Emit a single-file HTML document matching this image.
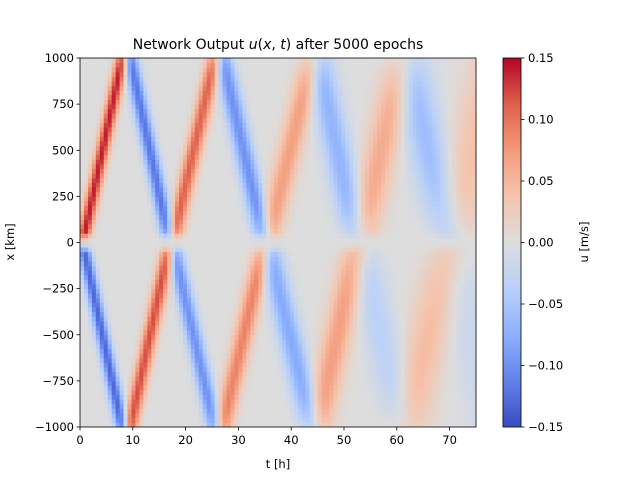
<!DOCTYPE html>
<html><head><meta charset="utf-8"><style>
body{margin:0;background:#fff;}
svg text{font-family:"DejaVu Sans","Liberation Sans",sans-serif;font-size:11.5px;fill:#000;}
</style></head><body>
<svg id="chart" width="640" height="480">
<defs><linearGradient id="cbg" x1="0" y1="1" x2="0" y2="0">
<stop offset="0" stop-color="rgb(58,76,192)"/><stop offset="0.125" stop-color="rgb(98,130,234)"/>
<stop offset="0.25" stop-color="rgb(141,176,254)"/><stop offset="0.375" stop-color="rgb(184,208,249)"/>
<stop offset="0.5" stop-color="rgb(221,221,221)"/><stop offset="0.625" stop-color="rgb(245,196,173)"/>
<stop offset="0.75" stop-color="rgb(244,154,123)"/><stop offset="0.875" stop-color="rgb(222,96,77)"/>
<stop offset="1" stop-color="rgb(180,4,38)"/></linearGradient></defs>
<g id="cells"></g>
<rect x="80" y="58" width="396" height="369" fill="none" stroke="#000" stroke-width="0.8"/>
<g id="axes"></g>
<text x="278" y="49" text-anchor="middle" style="font-size:14px">Network Output <tspan font-style="italic">u</tspan>(<tspan font-style="italic">x</tspan>, <tspan font-style="italic">t</tspan>) after 5000 epochs</text>
<text x="278" y="468" text-anchor="middle">t [h]</text>
<text transform="translate(14,242) rotate(-90)" text-anchor="middle">x [km]</text>
<rect x="503" y="58" width="18" height="369" fill="url(#cbg)" stroke="#000" stroke-width="0.8"/>
<text transform="translate(588,242) rotate(-90)" text-anchor="middle">u [m/s]</text>
</svg>
<script>
// ridge segments: start time, end time, start x, end x, amplitude, width (h)
const segT0 = [0.5, 9.5, 17.5, 27, 35.5, 45, 53, 62, 70,   0.5, 9.5, 17.5, 27, 35.5, 45, 53, 62, 70];
const segT1 = [8, 17, 25.5, 35, 44, 52.5, 61, 70, 79,      8, 17, 25.5, 35, 44, 52.5, 61, 70, 79];
const segX0 = [0, 1000, 0, 1000, 0, 1000, 0, 1000, 0,      0, -1000, 0, -1000, 0, -1000, 0, -1000, 0];
const segX1 = [1000, 0, 1000, 0, 1000, 0, 1000, 0, 1000,   -1000, 0, -1000, 0, -1000, 0, -1000, 0, -1000];
const segAmp = [0.14, -0.12, 0.11, -0.10, 0.07, -0.07, 0.06, -0.06, 0.04,
               -0.13, 0.12, -0.10, 0.09, -0.08, 0.07, -0.035, 0.045, -0.02];
const segW = [0.9, 1.0, 1.1, 1.3, 1.6, 1.9, 2.2, 2.6, 3.4, 0.9, 1.0, 1.1, 1.3, 1.6, 1.9, 2.3, 2.8, 3.4];
const xTicks = [0,10,20,30,40,50,60,70];
const yTicks = [-1000,-750,-500,-250,0,250,500,750,1000];
const cbTicks = [-0.15,-0.10,-0.05,0.00,0.05,0.10,0.15];
const nT = 100, nX = 80;

const L=80,R=476,T=58,B=427;
const sx=t=>L+(t/75)*(R-L);
const sy=x=>B-((x+1000)/2000)*(B-T);
const sc=v=>B-((v+0.15)/0.3)*(B-T);
const cmap=[[58,76,192],[98,130,234],[141,176,254],[184,208,249],[221,221,221],[245,196,173],[244,154,123],[222,96,77],[180,4,38]];
function color(v){let f=Math.max(0,Math.min(1,(v+0.15)/0.3))*8;let i=Math.min(7,Math.floor(f)),r=f-i;
 const a=cmap[i],b=cmap[i+1];return `rgb(${a.map((c,k)=>Math.round(c+(b[k]-c)*r)).join(',')})`;}
function val(t,x){let s=0;for(let k=0;k<segAmp.length;k++){const x0=segX0[k],x1=segX1[k];
 const lo=Math.min(x0,x1),hi=Math.max(x0,x1);if(x<lo||x>hi)continue;
 const tl=segT0[k]+(segT1[k]-segT0[k])*(x-x0)/(x1-x0);const d=(t-tl)/segW[k];
 const edge=Math.min(1,Math.abs(x)/60);s+=segAmp[k]*edge*Math.exp(-d*d/2);}return s;}
const NS='http://www.w3.org/2000/svg';
const g=document.getElementById('cells');
const dt=75/nT,dx=2000/nX;
for(let i=0;i<nT;i++)for(let j=0;j<nX;j++){
 const t=(i+0.5)*dt,x=-1000+(j+0.5)*dx;const r=document.createElementNS(NS,'rect');
 const x0=sx(i*dt),x1=sx((i+1)*dt),y0=sy(-1000+(j+1)*dx),y1=sy(-1000+j*dx);
 r.setAttribute('x',x0);r.setAttribute('y',y0);r.setAttribute('width',x1-x0+0.4);r.setAttribute('height',y1-y0+0.4);
 r.setAttribute('fill',color(val(t,x)));
 
 
 g.appendChild(r);}
const ax=document.getElementById('axes');
function add(tag,attrs,txt){const e=document.createElementNS(NS,tag);for(const k in attrs)e.setAttribute(k,attrs[k]);if(txt!==undefined)e.textContent=txt;ax.appendChild(e);return e;}
xTicks.forEach(v=>{add('line',{x1:sx(v),x2:sx(v),y1:B,y2:B+3.5,stroke:'#000','stroke-width':0.8});
 const e=add('text',{x:sx(v),y:B+17,'text-anchor':'middle'},String(v));
 
 });
yTicks.forEach(v=>{add('line',{x1:L-3.5,x2:L,y1:sy(v),y2:sy(v),stroke:'#000','stroke-width':0.8});
 const e=add('text',{x:L-6,y:sy(v)+4,'text-anchor':'end'},v<0?'\u2212'+(-v):String(v));
 
 });
cbTicks.forEach(v=>{add('line',{x1:521,x2:524.5,y1:sc(v),y2:sc(v),stroke:'#000','stroke-width':0.8});
 const s=Math.abs(v).toFixed(2);const e=add('text',{x:528,y:sc(v)+4},v<0?'\u2212'+s:s);
 
 });
</script>
</body></html>
